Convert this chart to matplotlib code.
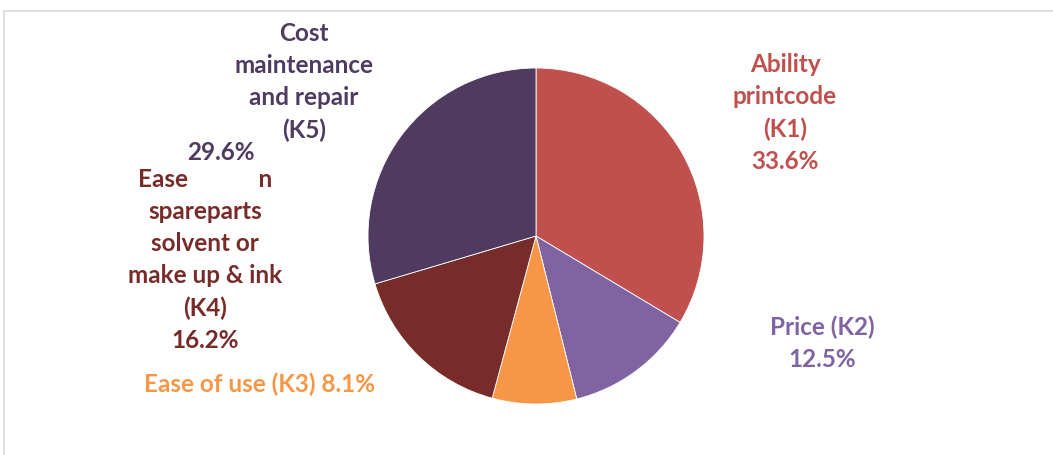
import matplotlib.pyplot as plt
from matplotlib.patches import Rectangle

# data
labels = ["Ability\nprintcode\n(K1)\n33.6%",
          "Price (K2)\n12.5%",
          "Ease of use (K3) 8.1%",
          "Ease            n\nspareparts\nsolvent or\nmake up & ink\n(K4)\n16.2%",
          "Cost\nmaintenance\nand repair\n(K5)"]
values = [33.6, 12.5, 8.1, 16.2, 29.6]
colors = ["#C0504D", "#8064A2", "#F79646", "#772C2A", "#4F3A60"]

W, H = 1053, 455
fig = plt.figure(figsize=(W / 100, H / 100), dpi=100)
ax = fig.add_axes([0, 0, 1, 1])
ax.set_xlim(0, W)
ax.set_ylim(0, H)
ax.axis("off")

# light frame of the chart area
fig.patches.append(Rectangle((4 / W, -0.1), 1.2, (H - 11) / H + 0.1,
                             transform=fig.transFigure, fill=False,
                             edgecolor="#D9D9D9", linewidth=1.2))

ax.pie(values, colors=colors, startangle=90, counterclock=False,
       center=(536, H - 236), radius=168,
       wedgeprops=dict(edgecolor="white", linewidth=0.6))
ax.set_aspect("equal")
ax.set_xlim(0, W)
ax.set_ylim(0, H)

font = dict(family="Lato", fontweight="bold", fontsize=17.5, linespacing=1.48,
            ha="center", va="center")

# label positions (pixel centres)
pos = [(785, 113), (822, 343), (260, 384), (205, 260), (304, 82)]
for lab, c, (x, y) in zip(labels, colors, pos):
    ax.text(x, H - y, lab, color=c, **font)

ax.text(221, H - 153, "29.6%", color=colors[4], **font)

fig.savefig("out.png", dpi=100)
